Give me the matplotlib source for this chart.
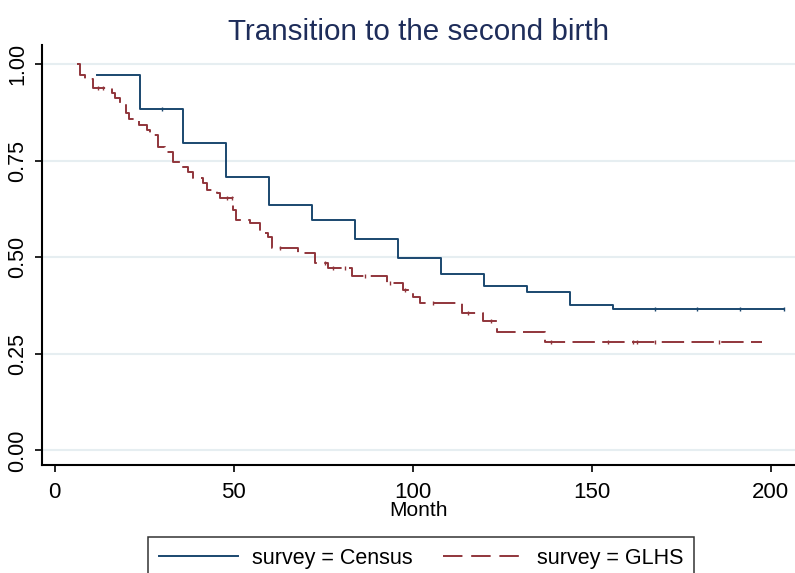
import numpy as np
import matplotlib
matplotlib.use("Agg")
import matplotlib.pyplot as plt
from matplotlib.lines import Line2D

plt.rcParams['font.family'] = ['Liberation Sans', 'DejaVu Sans']

# Kaplan-Meier steps (month, survival)
census_month = [12, 24, 36, 48, 60, 72, 84, 96, 108, 120, 132, 144, 156]
census_surv = [0.973, 0.885, 0.796, 0.709, 0.636, 0.598, 0.548, 0.499, 0.458, 0.425, 0.411, 0.376, 0.367]
census_end = 203.8
census_censor = [29.9, 167.7, 179.5, 191.5, 203.8]

glhs_month = [6.3, 7.1, 8.5, 10.8, 16.1, 16.9, 18.3, 20.0, 20.8, 23.6,
              25.8, 26.7, 28.9, 30.9, 33.1, 35.6, 37.3, 38.7, 41.5, 42.6,
              45.4, 46.2, 49.9, 50.7, 54.6, 57.4, 59.6, 60.8, 68.0, 72.8,
              76.4, 83.1, 92.9, 97.4, 100.1, 102.1, 113.8, 119.7, 123.6, 137.0]
glhs_surv = [1.0, 0.973, 0.963, 0.939, 0.926, 0.913, 0.900, 0.874, 0.859, 0.843,
             0.830, 0.817, 0.786, 0.773, 0.747, 0.735, 0.722, 0.706, 0.693, 0.675,
             0.667, 0.654, 0.623, 0.597, 0.589, 0.564, 0.553, 0.524, 0.512, 0.486,
             0.473, 0.452, 0.434, 0.416, 0.398, 0.382, 0.356, 0.335, 0.307, 0.280]
glhs_end = 197.6
glhs_censor = [12.2, 13.5, 48.1, 49.5, 63, 75.5, 77.8, 81.1, 86.7, 93.7, 97.9,
               105.7, 115.5, 122, 138.6, 154.6, 161.6, 162.7, 167.7, 185.7]

x_ticks = [0, 50, 100, 150, 200]
y_ticks = [0.0, 0.25, 0.50, 0.75, 1.00]

c_census = '#1a476f'
c_glhs = '#90353b'
c_title = '#1e2d5a'
c_grid = '#e6eef1'

W, H = 795, 573
fig = plt.figure(figsize=(W / 100, H / 100), dpi=100)
ax = fig.add_axes([42 / W, (H - 465) / H, (W - 42) / W, (465 - 45) / H])


def step_xy(months, surv, end):
    x = np.append(months, end)
    y = np.append(surv, surv[-1])
    return x, y


def value_at(months, surv, t):
    i = np.searchsorted(months, t, side='right') - 1
    return np.array(surv)[i]


cx, cy = step_xy(census_month, census_surv, census_end)
gx, gy = step_xy(glhs_month, glhs_surv, glhs_end)

ax.plot(cx, cy, drawstyle='steps-post', color=c_census, lw=1.4, zorder=3)
ax.plot(gx, gy, drawstyle='steps-post', color=c_glhs, lw=1.4,
        linestyle=(0, (11.5, 3.8)), zorder=3)

# censoring marks
ax.plot(census_censor, value_at(census_month, census_surv, census_censor),
        ls='none', marker='|', ms=2.5, mew=1.0, color=c_census, zorder=4)
ax.plot(glhs_censor, value_at(glhs_month, glhs_surv, glhs_censor),
        ls='none', marker='|', ms=2.5, mew=1.0, color=c_glhs, zorder=4)

ax.set_xlim(-3.5, 206.8)
ax.set_ylim(-0.0376, 1.050)
ax.set_xticks(x_ticks)
ax.set_yticks(y_ticks)
ax.set_yticklabels(['%.2f' % v for v in y_ticks], rotation=90, va='center')
ax.grid(axis='y', color=c_grid, lw=1.5)
ax.set_axisbelow(True)

for s in ['top', 'right']:
    ax.spines[s].set_visible(False)
for s in ['left', 'bottom']:
    ax.spines[s].set_linewidth(1.5)
ax.tick_params(axis='both', direction='out', length=5, width=1.2, colors='black')
ax.tick_params(axis='y', labelsize=15.5, pad=5)
ax.tick_params(axis='x', labelsize=16, pad=7)

ax.set_xlabel('Month', fontsize=15, labelpad=-1)
fig.text(419 / W, 1 - 32 / H, 'Transition to the second birth', fontsize=21.3,
         color=c_title, ha='center', va='center')

handles = [Line2D([], [], color=c_census, lw=1.4),
           Line2D([], [], color=c_glhs, lw=1.4, linestyle=(0, (10, 4.5)))]
leg = fig.legend(handles, ['survey = Census', 'survey = GLHS'], ncol=2,
                 loc='upper left', bbox_to_anchor=(148 / W, 1 - 537 / H),
                 fontsize=15.5, frameon=True, fancybox=False, edgecolor='black',
                 borderaxespad=0, borderpad=0.5, handlelength=3.7,
                 handletextpad=0.65, columnspacing=1.4)
leg.get_frame().set_linewidth(1.1)

fig.savefig('out.png', dpi=100)
